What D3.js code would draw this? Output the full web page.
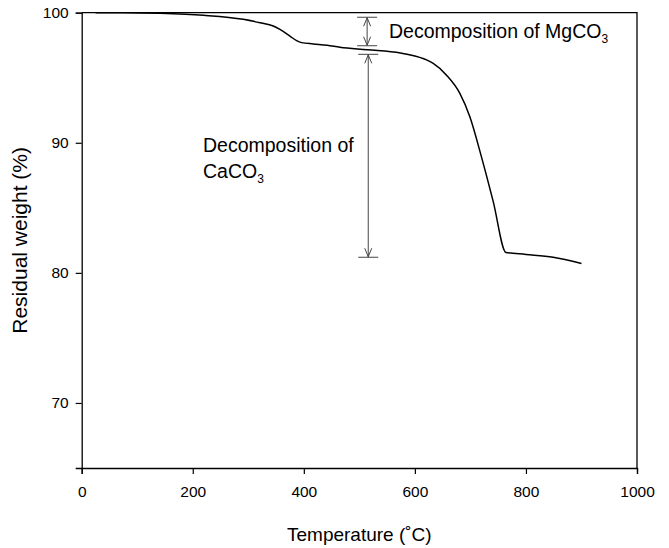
<!DOCTYPE html>
<html>
<head>
<meta charset="utf-8">
<script src="https://cdn.jsdelivr.net/npm/d3@7"></script>
<style>
  html, body { margin: 0; padding: 0; background: #fff; }
  svg text { font-family: "Liberation Sans", Arial, Helvetica, sans-serif; fill: #000; }
</style>
</head>
<body>
<svg id="chart" width="669" height="548"></svg>
<script>
// ---- data ----
const temperatures = [25, 75, 141, 219, 291, 321, 345, 357, 375, 387, 396, 417, 442, 465, 514, 574, 586, 622, 633, 657, 681, 699, 720, 741, 764, 800, 849, 900];
const residualWeights = [100, 100, 99.95, 99.8, 99.49, 99.23, 98.98, 98.72, 98.2, 97.85, 97.7, 97.6, 97.5, 97.34, 97.15, 96.9, 96.8, 96.35, 96.1, 95.2, 93.8, 92.0, 88.9, 85.5, 81.57, 81.42, 81.2, 80.72];
const xTicks = [0, 200, 400, 600, 800, 1000];
const yTicks = [70, 80, 90, 100];
const xDomain = [0, 1000];
const yDomain = [65, 100];
// annotation arrows (temperature position, upper and lower weight)
const arrowTemps = [514, 516];
const arrowTop = [99.65, 96.8];
const arrowBottom = [97.46, 81.2];

// ---- layout ----
const margin = { left: 81.7, right: 669 - 637, top: 12.7, bottom: 548 - 468 };
const W = 669, H = 548;
const svg = d3.select("#chart");
const x = d3.scaleLinear().domain(xDomain).range([margin.left, W - margin.right]);
const y = d3.scaleLinear().domain(yDomain).range([H - margin.bottom, margin.top]);

// frame (top and right)
svg.append("path")
  .attr("d", `M${x(0)},${y(100)} H${x(1000)} V${y(65)}`)
  .attr("fill", "none").attr("stroke", "#000").attr("stroke-width", 1.3);

// axes
const xAxis = svg.append("g")
  .attr("transform", `translate(0,${y(65)})`)
  .call(d3.axisBottom(x).tickValues(xTicks).tickSize(6).tickPadding(12).tickFormat(d3.format("d")));
const yAxis = svg.append("g")
  .attr("transform", `translate(${x(0)},0)`)
  .call(d3.axisLeft(y).tickValues(yTicks).tickSize(6).tickPadding(7).tickFormat(d3.format("d")));
[xAxis, yAxis].forEach(g => {
  g.select(".domain").attr("stroke", "#000").attr("stroke-width", 1.3);
  g.selectAll(".tick line").attr("stroke", "#000").attr("stroke-width", 1.2);
  g.selectAll(".tick text").attr("font-size", 15.5).attr("fill", "#000")
    .attr("font-family", "'Liberation Sans', Arial, sans-serif");
});

// curve
const line = d3.line()
  .x((d, i) => x(temperatures[i]))
  .y(d => y(d))
  .curve(d3.curveMonotoneX);
svg.append("path")
  .datum(residualWeights)
  .attr("d", line)
  .attr("fill", "none")
  .attr("stroke", "#000")
  .attr("stroke-width", 1.5);

// annotation arrows
arrowTemps.forEach((t, i) => {
  const ax = x(t), y1 = y(arrowTop[i]), y2 = y(arrowBottom[i]);
  const g = svg.append("g").attr("stroke", "#444").attr("stroke-width", 1).attr("fill", "none");
  g.append("line").attr("x1", ax - 10).attr("x2", ax + 10).attr("y1", y1).attr("y2", y1);
  g.append("line").attr("x1", ax - 10).attr("x2", ax + 10).attr("y1", y2).attr("y2", y2);
  g.append("line").attr("x1", ax).attr("x2", ax).attr("y1", y1).attr("y2", y2);
  g.append("path").attr("d", `M${ax - 3.5},${y1 + 9} L${ax},${y1 + 0.5} L${ax + 3.5},${y1 + 9}`);
  g.append("path").attr("d", `M${ax - 3.5},${y2 - 9} L${ax},${y2 - 0.5} L${ax + 3.5},${y2 - 9}`);
});

// annotation labels
const t1 = svg.append("text").attr("x", 389).attr("y", 37.5).attr("font-size", 19.5);
t1.append("tspan").text("Decomposition of MgCO");
t1.append("tspan").attr("font-size", 12).attr("dy", 5).text("3");

svg.append("text").attr("x", 203).attr("y", 151.5).attr("font-size", 19.5).text("Decomposition of");
const t2 = svg.append("text").attr("x", 203).attr("y", 177.5).attr("font-size", 19.5);
t2.append("tspan").text("CaCO");
t2.append("tspan").attr("font-size", 12).attr("dy", 5).text("3");

// axis titles
svg.append("text")
  .attr("x", (x(0) + x(1000)) / 2).attr("y", 541)
  .attr("text-anchor", "middle").attr("font-size", 19)
  .text("Temperature (˚C)");
svg.append("text")
  .attr("transform", `translate(27,${(y(100) + y(65)) / 2}) rotate(-90)`)
  .attr("text-anchor", "middle").attr("font-size", 21)
  .text("Residual weight (%)");
</script>
</body>
</html>
